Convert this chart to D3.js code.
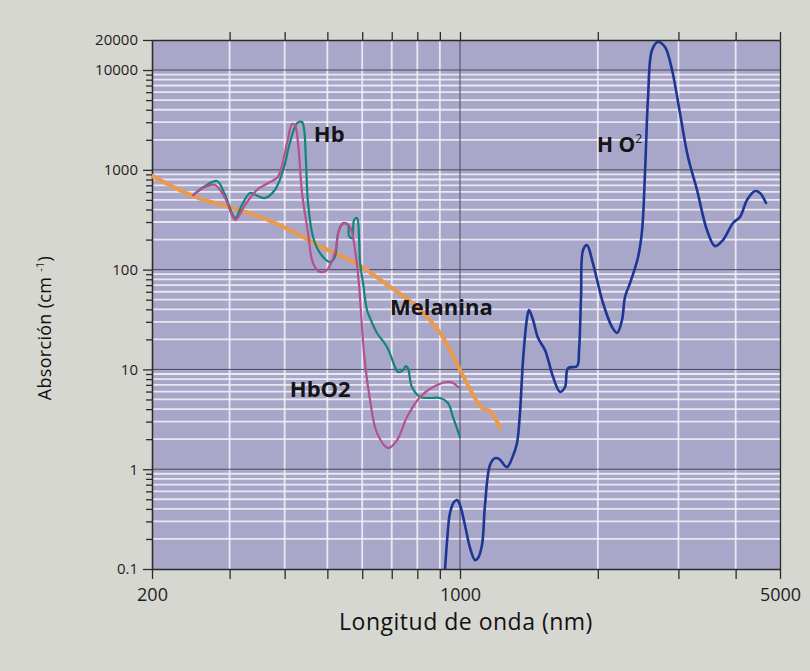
<!DOCTYPE html>
<html>
<head>
<meta charset="utf-8">
<script src="https://cdn.jsdelivr.net/npm/d3@7/dist/d3.min.js"></script>
<style>
    body { margin: 0; background: #d7d7d1; }
    #chart { width: 810px; height: 671px; }
    .plot-bg { fill: #a8a7c9; }
    .grid-minor { stroke: #f2f2f7; stroke-width: 1.8; opacity: 0.88; }
    .grid-major { stroke: #4a4a58; stroke-width: 1; }
    .axis path, .axis line { stroke: #2b2b2b; stroke-width: 1.3; }
    .axis text { fill: #1e1e1e; font-family: "Open Sans", sans-serif; }
    .curve { fill: none; stroke-linecap: round; stroke-linejoin: round; }
    .label { font-family: "Open Sans", sans-serif; font-weight: 700; fill: #151515; }
    .title { font-family: "Open Sans", sans-serif; fill: #111; }
</style>
</head>
<body>
<div id="chart"></div>
<script>
// ticks
const xTicks = [200, 300, 400, 500, 600, 700, 800, 900, 1000, 2000, 3000, 4000, 5000];
const xTickLabels = [200, 1000, 5000];
const yDecades = [0.1, 1, 10, 100, 1000, 10000];
const yMajorTicks = [0.1, 1, 10, 100, 1000, 10000, 20000];
const yTickLabels = ["0.1", "1", "10", "100", "1000", "10000", "20000"];
const minorSteps = [2, 3, 4, 5, 6, 7, 8, 9];

// Melanina
const melaninaNm = [200, 248, 305, 352, 411, 481, 584, 694, 799, 901, 1000, 1117, 1163, 1223];
const melaninaAbs = [870, 546, 414, 337, 249, 172, 114, 67, 42.2, 23.2, 9.9, 4.1, 3.83, 2.59];

// Hb
const hbNm = [248, 264, 281, 293, 309, 320, 334, 348, 361, 380, 397, 411, 427, 438, 443, 447, 452, 464, 481, 507,
    520, 529, 543, 557, 560, 569, 575, 584, 590, 593, 602, 615, 625, 648, 683, 712, 723, 743, 754, 762,
    778, 812, 855, 901, 939, 964, 1000];
const hbAbs = [559, 689, 773, 559, 329, 444, 586, 546, 522, 628, 996, 1857, 2944, 3013, 2505, 1254, 465, 212, 147, 119,
    134, 233, 293, 280, 217, 207, 314, 329, 212, 119, 75.2, 39.4, 32.7, 23.2, 16.8, 10.6, 9.42, 9.86, 10.8, 10.3,
    6.66, 5.29, 5.17, 5.17, 4.61, 3.33, 2.10];

// HbO2
const hbo2Nm = [248, 264, 278, 293, 309, 325, 346, 367, 386, 405, 416, 422, 429, 438, 452, 464, 481, 499, 520, 534,
    548, 563, 578, 590, 606, 625, 648, 687, 720, 758, 812, 869, 935, 964, 990];
const hbo2Abs = [559, 673, 705, 522, 314, 444, 628, 738, 847, 1857, 2877, 2811, 1857, 586, 233, 116, 95, 99, 147, 267,
    293, 267, 157, 70.1, 13.9, 4.94, 2.31, 1.63, 1.96, 3.33, 5.29, 6.66, 7.48, 7.31, 6.66];

// H2O
const waterNm = [925, 935, 949, 969, 985, 1000, 1025, 1052, 1078, 1095, 1117, 1134, 1163, 1192, 1217, 1266, 1305, 1332, 1352, 1373,
    1401, 1415, 1444, 1481, 1534, 1597, 1654, 1696, 1722, 1802, 1820, 1838, 1857, 1894, 1951, 2053, 2148, 2203, 2259, 2293,
    2352, 2449, 2499, 2537, 2575, 2627, 2707, 2804, 2905, 3023, 3148, 3294, 3463, 3606, 3754, 3947, 4089, 4236, 4410, 4522,
    4660];
const waterAbs = [0.1, 0.195, 0.364, 0.469, 0.491, 0.438, 0.276, 0.162, 0.123, 0.129, 0.174, 0.438, 1.10, 1.29, 1.27, 1.05, 1.36, 1.83, 3.66, 12.4,
    32.7, 39.4, 31.3, 20.6, 15.6, 8.39, 5.94, 6.66, 10.3, 10.8, 15.6, 53.1, 157, 176, 116, 46.3, 26.6, 23.2, 31.3, 53.1,
    73.4, 134, 249, 996, 5360, 15860, 19080, 17000, 10000, 3710, 1343, 628, 249, 172, 198, 293, 337, 498, 613, 586,
    465];

// curve labels, anchored in data units
const labelText = ["Hb", "Melanina", "HbO2"];
const labelNm = [466, 694, 411];
const labelAbs = [1900, 35.5, 5.3];

class absorcionChart {
    constructor(id) {
        this.id = id;
        this.selectPlot = d3.select(`#${id}`);
        this.series = [
            {name: "melanina", nm: melaninaNm, abs: melaninaAbs, color: "#e99a4c", width: 4},
            {name: "hb", nm: hbNm, abs: hbAbs, color: "#14837a", width: 2.2},
            {name: "hbo2", nm: hbo2Nm, abs: hbo2Abs, color: "#b3528e", width: 2.2},
            {name: "h2o", nm: waterNm, abs: waterAbs, color: "#1d3593", width: 2.6}
        ];
    }

    execute() {
        this.init();
        this.createSVG();
        this.drawGrid();
        this.drawAxes();
        this.drawCurves();
        this.drawLabels();
    }

    init() {
        this.w = 810;
        this.h = 671;
        // photo is slightly keystoned, so the x scale is piecewise per decade-half
        this.x = d3.scaleLog()
            .domain([200, 1000, 5000])
            .range([152, 460, 780]);
        this.y = d3.scaleLog()
            .domain([0.1, 20000])
            .range([569, 40]);
        this.yMinor = yDecades.slice(0, 5).flatMap((d) => minorSteps.map((k) => d * k));
    }

    createSVG() {
        this.plot = this.selectPlot.append("svg")
            .attr("width", this.w)
            .attr("height", this.h)
            .attr("xmlns", "http://www.w3.org/2000/svg");

        this.plot.append("defs")
            .append("clipPath")
            .attr("id", "clip")
            .append("rect")
            .attr("x", this.x(200))
            .attr("y", this.y(20000))
            .attr("width", this.x(5000) - this.x(200))
            .attr("height", this.y(0.1) - this.y(20000));
    }

    drawGrid() {
        const [x0, x1] = [this.x(200), this.x(5000)];
        const [y0, y1] = [this.y(0.1), this.y(20000)];
        const g = this.plot.append("g").attr("class", "grid");

        g.append("rect")
            .attr("class", "plot-bg")
            .attr("x", x0)
            .attr("y", y1)
            .attr("width", x1 - x0)
            .attr("height", y0 - y1);

        g.selectAll(".h-minor")
            .data(this.yMinor)
            .join("line")
            .attr("class", "grid-minor h-minor")
            .attr("x1", x0).attr("x2", x1)
            .attr("y1", (d) => this.y(d)).attr("y2", (d) => this.y(d));

        g.selectAll(".v-minor")
            .data(xTicks.filter((d) => !xTickLabels.includes(d)))
            .join("line")
            .attr("class", "grid-minor v-minor")
            .attr("y1", y0).attr("y2", y1)
            .attr("x1", (d) => this.x(d)).attr("x2", (d) => this.x(d));

        g.selectAll(".h-major")
            .data(yDecades.slice(1))
            .join("line")
            .attr("class", "grid-major h-major")
            .attr("x1", x0).attr("x2", x1)
            .attr("y1", (d) => this.y(d)).attr("y2", (d) => this.y(d));

        g.append("line")
            .attr("class", "grid-major")
            .attr("y1", y0).attr("y2", y1)
            .attr("x1", this.x(1000)).attr("x2", this.x(1000));
    }

    drawAxes() {
        const [y0, y1] = [this.y(0.1), this.y(20000)];

        const bottom = this.plot.append("g")
            .attr("class", "axis")
            .attr("transform", `translate(0,${y0})`)
            .call(d3.axisBottom(this.x)
                .tickValues(xTicks)
                .tickFormat((d) => (xTickLabels.includes(d) ? d : ""))
                .tickSize(10)
                .tickSizeOuter(0)
                .tickPadding(9));
        bottom.selectAll("text").style("font-size", "18px");

        this.plot.append("g")
            .attr("class", "axis")
            .attr("transform", `translate(0,${y1})`)
            .call(d3.axisTop(this.x)
                .tickValues(xTicks.slice(1))
                .tickFormat("")
                .tickSize(8)
                .tickSizeOuter(0));

        this.plot.append("g")
            .attr("class", "axis")
            .attr("transform", `translate(${this.x(200)},0)`)
            .call(d3.axisLeft(this.y)
                .tickValues(this.yMinor)
                .tickFormat("")
                .tickSize(6)
                .tickSizeOuter(0));

        const left = this.plot.append("g")
            .attr("class", "axis")
            .attr("transform", `translate(${this.x(200)},0)`)
            .call(d3.axisLeft(this.y)
                .tickValues(yMajorTicks)
                .tickFormat((d, i) => yTickLabels[i])
                .tickSize(9)
                .tickSizeOuter(0)
                .tickPadding(5));
        left.selectAll("text").style("font-size", "15px");

        this.plot.append("g")
            .attr("class", "axis")
            .attr("transform", `translate(${this.x(5000)},0)`)
            .call(d3.axisRight(this.y).tickValues([]).tickSizeOuter(0));

        // axis titles
        this.plot.append("text")
            .attr("class", "title")
            .attr("x", this.x(1000) + 6)
            .attr("y", 630)
            .attr("text-anchor", "middle")
            .style("font-size", "23px")
            .style("letter-spacing", "0.5px")
            .text("Longitud de onda (nm)");

        const yt = this.plot.append("text")
            .attr("class", "title")
            .attr("transform", `translate(51,328) rotate(-90)`)
            .attr("text-anchor", "middle")
            .style("font-size", "18px")
            .style("letter-spacing", "0.3px");
        yt.append("tspan").text("Absorción (cm ");
        yt.append("tspan").attr("dy", -7).style("font-size", "11px").text("-1");
        yt.append("tspan").attr("dy", 7).text(")");
    }

    drawCurves() {
        const line = d3.line()
            .x((d) => this.x(d[0]))
            .y((d) => this.y(d[1]))
            .curve(d3.curveCatmullRom.alpha(0.5));

        this.plot.append("g")
            .attr("class", "curves")
            .attr("clip-path", "url(#clip)")
            .selectAll(".curve")
            .data(this.series)
            .join("path")
            .attr("class", (d) => `curve ${d.name}`)
            .attr("d", (d) => line(d3.zip(d.nm, d.abs)))
            .attr("stroke", (d) => d.color)
            .attr("stroke-width", (d) => d.width);
    }

    drawLabels() {
        this.plot.append("g")
            .selectAll(".label")
            .data(labelText)
            .join("text")
            .attr("class", "label")
            .attr("x", (d, i) => this.x(labelNm[i]))
            .attr("y", (d, i) => this.y(labelAbs[i]))
            .style("font-size", "22px")
            .text((d) => d);

        // H2O label, the 2 sits raised right after the O like in the print
        const water = this.plot.append("text")
            .attr("class", "label")
            .attr("x", this.x(1992))
            .attr("y", this.y(1507))
            .style("font-size", "21px");
        water.append("tspan").text("H O");
        water.append("tspan")
            .attr("dx", 0)
            .attr("dy", -9)
            .style("font-size", "12px")
            .style("font-weight", 400)
            .text("2");
    }
}

const chart = new absorcionChart("chart");
chart.execute();
</script>
</body>
</html>
